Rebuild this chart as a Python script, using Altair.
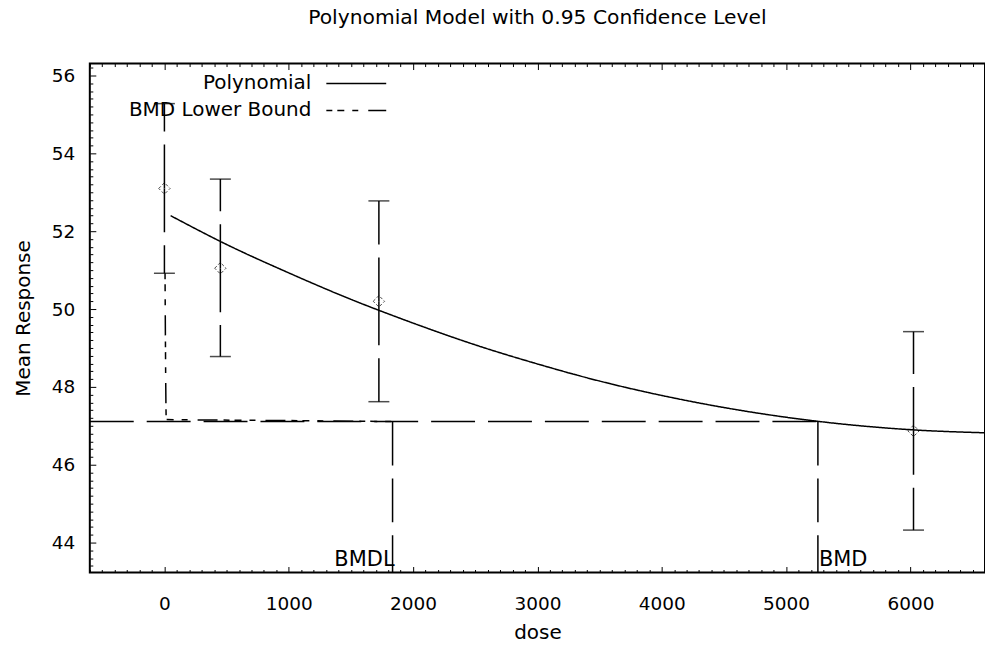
import altair as alt
import pandas as pd

# Observed dose groups: mean response with 95% confidence limits
dose = [0, 450, 1725, 6025]
mean = [53.10, 51.05, 50.20, 46.87]
lower = [50.92, 48.78, 47.62, 44.32]
upper = [55.28, 53.34, 52.78, 49.42]

# Fitted polynomial model
curve_dose = [50, 500, 1000, 1500, 2000, 2500, 3000, 3500, 4000, 4500, 5000, 5500, 6000, 6600]
curve_resp = [52.40, 51.66, 50.93, 50.25, 49.64, 49.08, 48.59, 48.15, 47.78, 47.47, 47.22, 47.03, 46.90, 46.82]

# Lower-bound curve
lb_dose = [5, 15, 800, 1835]
lb_resp = [50.92, 47.16, 47.14, 47.11]

# Benchmark response and doses
bmr = 47.11
bmd = 5256
bmdl = 1835

series_names = ["Polynomial", "BMD Lower Bound"]
series_dash = [[1, 0], [6, 5, 7, 8, 6, 10, 20, 6]]

x_labels = [0, 1000, 2000, 3000, 4000, 5000, 6000]
y_labels = [44, 46, 48, 50, 52, 54, 56]
x_ticks = list(range(-600, 6601, 100))
y_ticks = [round(v / 10, 1) for v in range(434, 563, 2)]

X_DOMAIN = [-600, 6600]
Y_DOMAIN = [43.23, 56.31]

FONT = "DejaVu Sans"
W, H = 897, 510
LONG_DASH = [44, 13]

xs = alt.Scale(domain=X_DOMAIN, nice=False, zero=False)
ys = alt.Scale(domain=Y_DOMAIN, nice=False, zero=False)

X_MAJOR = "datum.value % 1000 === 0"
Y_MAJOR = "abs(datum.value / 2 - round(datum.value / 2)) < 0.001"


def tick_len(test):
    return {"condition": {"test": test, "value": 6}, "value": 3}


def tick_axis(orient, values, test, offset):
    return alt.Axis(orient=orient, values=values, offset=offset, labels=False,
                    domain=False, grid=False, ticks=True, tickColor="black",
                    tickWidth=1, tickSize=tick_len(test), title=None)


label_x_axis = alt.Axis(orient="bottom", values=x_labels, format="d", ticks=False,
                        tickSize=0, domain=False, grid=False, labelFont=FONT,
                        labelFontSize=18.5, labelColor="black", labelPadding=22,
                        labelFlush=False, labelOverlap=False, title="dose",
                        titleFont=FONT, titleFontSize=20, titleFontWeight="normal",
                        titleColor="black", titlePadding=10)
label_y_axis = alt.Axis(orient="left", values=y_labels, format="d", ticks=False,
                        tickSize=0, domain=False, grid=False, labelFont=FONT,
                        labelFontSize=18.5, labelColor="black", labelPadding=15,
                        labelOverlap=False, title="Mean Response", titleFont=FONT,
                        titleFontSize=20, titleFontWeight="normal",
                        titleColor="black", titlePadding=18)

# Table builds
rows = []
for i, (d, r) in enumerate(zip(curve_dose, curve_resp)):
    rows.append({"series": series_names[0], "dose": d, "resp": r, "order": i})
for i, (d, r) in enumerate(zip(lb_dose, lb_resp)):
    rows.append({"series": series_names[1], "dose": d, "resp": r, "order": i})
lines_df = pd.DataFrame(rows)

bar_rows, cap_rows = [], []
for d, m, lo, hi in zip(dose, mean, lower, upper):
    bar_rows += [{"dose": d, "start": m, "end": hi}, {"dose": d, "start": m, "end": lo}]
    cap_rows += [{"dose": d, "value": hi}, {"dose": d, "value": lo}]
bar_df = pd.DataFrame(bar_rows)
cap_df = pd.DataFrame(cap_rows)
pt_df = pd.DataFrame({"dose": dose, "mean": mean})

bmr_df = pd.DataFrame({"x0": [X_DOMAIN[0]], "x1": [bmd], "y": [bmr]})
drop_df = pd.DataFrame({"x": [bmdl, bmd], "y": [bmr, bmr], "y2": [Y_DOMAIN[0]] * 2})
bmdl_lab = pd.DataFrame({"x": [bmdl], "y": [Y_DOMAIN[0]], "t": ["BMDL"]})
bmd_lab = pd.DataFrame({"x": [bmd], "y": [Y_DOMAIN[0]], "t": ["BMD"]})

# Legend: the line sample path sits to the right of its anchor, so the
# right-aligned labels end up on the left of each sample
legend = alt.Legend(title=None, orient="none", legendX=6, legendY=9,
                    direction="vertical", symbolType="M4,0H10", symbolSize=400,
                    symbolOffset=180, symbolStrokeWidth=1.5,
                    symbolStrokeColor="black", labelFont=FONT, labelFontSize=20,
                    labelColor="black", labelAlign="right", labelOffset=14,
                    labelLimit=400, rowPadding=6, padding=0)

lines = alt.Chart(lines_df).mark_line(color="black", strokeWidth=1.5,
                                      interpolate="monotone").encode(
    x=alt.X("dose:Q", scale=xs, axis=label_x_axis),
    y=alt.Y("resp:Q", scale=ys, axis=label_y_axis),
    strokeDash=alt.StrokeDash("series:N",
                              scale=alt.Scale(domain=series_names, range=series_dash),
                              sort=series_names, legend=legend),
    order="order:Q",
)

bars = alt.Chart(bar_df).mark_rule(color="black", strokeWidth=1.5,
                                   strokeDash=LONG_DASH).encode(
    x=alt.X("dose:Q", scale=xs, axis=tick_axis("top", x_ticks, X_MAJOR, -H)),
    y=alt.Y("start:Q", scale=ys, axis=tick_axis("right", y_ticks, Y_MAJOR, -W)),
    y2="end:Q",
)

caps = alt.Chart(cap_df).mark_tick(orient="horizontal", color="black", size=21,
                                   thickness=1.5).encode(
    x=alt.X("dose:Q", scale=xs, axis=tick_axis("bottom", x_ticks, X_MAJOR, -H)),
    y=alt.Y("value:Q", scale=ys, axis=None),
)

points = alt.Chart(pt_df).mark_point(shape="diamond", size=130, filled=False,
                                     color="black", strokeWidth=1,
                                     strokeDash=[3, 2]).encode(
    x=alt.X("dose:Q", scale=xs, axis=None),
    y=alt.Y("mean:Q", scale=ys, axis=None),
)

bmr_line = alt.Chart(bmr_df).mark_rule(color="black", strokeWidth=1.5,
                                       strokeDash=LONG_DASH).encode(
    x=alt.X("x0:Q", scale=xs, axis=None),
    x2="x1:Q",
    y=alt.Y("y:Q", scale=ys, axis=None),
)

drops = alt.Chart(drop_df).mark_rule(color="black", strokeWidth=1.5,
                                     strokeDash=LONG_DASH).encode(
    x=alt.X("x:Q", scale=xs, axis=None),
    y=alt.Y("y:Q", scale=ys, axis=None),
    y2="y2:Q",
)

text_style = dict(font=FONT, fontSize=21, color="black", baseline="alphabetic", dy=-7)
bmdl_text = alt.Chart(bmdl_lab).mark_text(align="right", dx=2, **text_style).encode(
    x=alt.X("x:Q", scale=xs, axis=None), y=alt.Y("y:Q", scale=ys, axis=None), text="t:N")
bmd_text = alt.Chart(bmd_lab).mark_text(align="left", dx=1, **text_style).encode(
    x=alt.X("x:Q", scale=xs, axis=None), y=alt.Y("y:Q", scale=ys, axis=None), text="t:N")

chart = alt.layer(
    bmr_line, drops, bars, caps, points, lines, bmdl_text, bmd_text
).resolve_axis(
    x="independent", y="independent"
).properties(
    width=W, height=H,
    padding={"left": 90, "top": 63, "right": 0, "bottom": 85},
    autosize="none",
    title=alt.TitleParams("Polynomial Model with 0.95 Confidence Level", font=FONT,
                          fontSize=20.3, fontWeight="normal", color="black",
                          anchor="middle", frame="group", baseline="alphabetic",
                          offset=19),
).configure_view(stroke="black", strokeWidth=2)

chart.save("out.html", embed_options={"renderer": "svg", "actions": False})
